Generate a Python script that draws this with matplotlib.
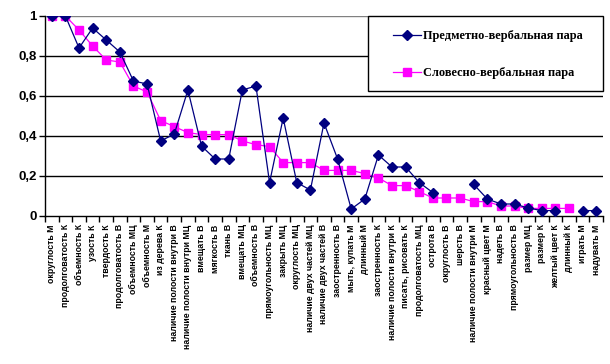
import numpy as np
import matplotlib.pyplot as plt
from matplotlib.patches import Rectangle
from matplotlib.ticker import FixedLocator, FuncFormatter

categories = [
    "округлость М", "продолговатость К", "объемность К", "узость К",
    "твердость К", "продолговатость В", "объемность МЦ", "объемность М",
    "из дерева К", "наличие полости внутри В", "наличие полости внутри МЦ",
    "вмещать В", "мягкость В", "ткань В", "вмещать МЦ", "объемность В",
    "прямоугольность МЦ", "закрыть МЦ", "округлость МЦ",
    "наличие двух частей МЦ", "наличие двух частей В", "заостренность В",
    "мыть, купать М", "длинный М", "заостренность К",
    "наличие полости внутри К", "писать, рисовать К", "продолговатость МЦ",
    "острота В", "округлость В", "шерсть В", "наличие полости внутри М",
    "красный цвет М", "надеть В", "прямоугольность В", "размер МЦ",
    "размер К", "желтый цвет К", "длинный К", "играть М", "надувать М",
]

# None = no value for that category
subject_verbal = [
    1.0, 1.0, 0.84, 0.94, 0.88, 0.82, 0.675, 0.66, 0.375, 0.41, 0.63,
    0.35, 0.285, 0.285, 0.63, 0.65, 0.167, 0.49, 0.167, 0.13, 0.465,
    0.285, 0.035, 0.085, 0.305, 0.245, 0.245, 0.167, 0.117, None, None,
    0.158, 0.085, 0.06, 0.06, 0.04, 0.027, 0.027, None, 0.027, 0.027,
]
word_verbal = [
    1.0, 1.0, 0.93, 0.85, 0.78, 0.77, 0.65, 0.62, 0.477, 0.447, 0.417,
    0.407, 0.407, 0.407, 0.375, 0.357, 0.347, 0.267, 0.267, 0.267, 0.228,
    0.228, 0.228, 0.212, 0.19, 0.152, 0.152, 0.122, 0.09, 0.09, 0.09,
    0.072, 0.072, 0.05, 0.05, 0.038, 0.038, 0.038, 0.038, None, None,
]

x = np.arange(len(categories))
blue = np.array([np.nan if v is None else v for v in subject_verbal])
pink = np.array([np.nan if v is None else v for v in word_verbal])

fig = plt.figure(figsize=(6.1, 3.64), dpi=100)
ax = fig.add_axes([45 / 610, 1 - 216 / 364, 558 / 610, 200 / 364])

for yv in [0.2, 0.4, 0.6, 0.8]:
    ax.axhline(yv, color="black", lw=1.0, zorder=0)
ax.axhline(1.0, color="#808080", lw=1.0, zorder=0)

ax.plot(x, blue, color="#000080", lw=0.9, marker="D", markersize=4.8,
        label="Предметно-вербальная пара", zorder=3)
ax.plot(x, pink, color="#FF00FF", lw=0.9, marker="s", markersize=5.8,
        label="Словесно-вербальная пара", zorder=2)

ax.set_xlim(-0.5, len(categories) - 0.5)
ax.set_ylim(0, 1)
for s in ["top", "right"]:
    ax.spines[s].set_visible(False)
for s in ["left", "bottom"]:
    ax.spines[s].set_linewidth(1.0)

ax.set_yticks([0, 0.2, 0.4, 0.6, 0.8, 1.0])
ax.yaxis.set_major_formatter(FuncFormatter(lambda v, p: f"{v:g}".replace(".", ",")))
ax.tick_params(axis="y", length=4, width=1, direction="out", pad=2)
for t in ax.get_yticklabels():
    t.set_fontfamily("Liberation Sans")
    t.set_fontweight("bold")
    t.set_fontsize(9.5)

ax.set_xticks(x)
ax.set_xticklabels(categories, rotation=90, fontsize=6.3, fontweight="bold",
                   family="Liberation Sans", va="top")
ax.tick_params(axis="x", which="major", length=0, pad=6)
ax.xaxis.set_minor_locator(FixedLocator(np.arange(-0.5, len(categories), 1)))
ax.tick_params(axis="x", which="minor", length=4, width=1, direction="out")

# legend box drawn separately so the padding can match the original
fig.patches.append(Rectangle((368 / 610, 1 - 91 / 364), 235 / 610, 75 / 364,
                             transform=fig.transFigure, facecolor="white",
                             edgecolor="black", lw=1.0, zorder=5))
handles, labels = ax.get_legend_handles_labels()
leg = fig.legend(handles, labels, loc="upper left",
                 bbox_to_anchor=(393 / 610, 1 - 30.5 / 364),
                 frameon=False, borderpad=0, labelspacing=2.0,
                 handlelength=2.3, handletextpad=0.15, borderaxespad=0,
                 prop={"family": "Liberation Serif", "weight": "bold", "size": 8.9})
leg.set_zorder(6)

fig.savefig("out.png", dpi=100)
